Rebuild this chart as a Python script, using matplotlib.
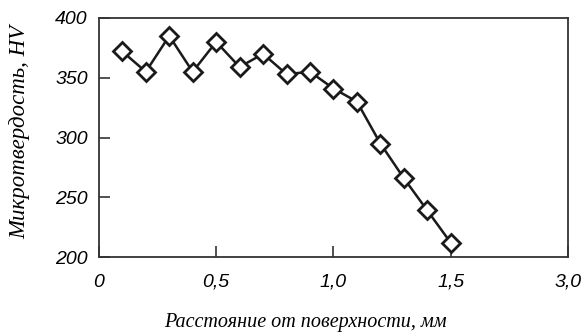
import matplotlib
matplotlib.use('Agg')
import matplotlib.pyplot as plt

# distance from surface, mm (axis is drawn 0..2.0, last tick labelled 3,0)
depth = [0.1, 0.2, 0.3, 0.4, 0.5, 0.6, 0.7, 0.8, 0.9, 1.0, 1.1, 1.2, 1.3, 1.4, 1.5]
hv = [372, 355, 385, 355, 380, 359, 370, 353, 355, 341, 330, 295, 266, 239, 212]

xticks = [0, 0.5, 1.0, 1.5, 2.0]
xlabels = ['0', '0,5', '1,0', '1,5', '3,0']
yticks = [200, 250, 300, 350, 400]

tick_font = {'family': 'Liberation Sans', 'style': 'italic', 'size': 14}
xlab_font = {'family': 'Liberation Serif', 'style': 'italic', 'size': 14.5}
ylab_font = {'family': 'Liberation Serif', 'style': 'italic', 'size': 16.5}

fig = plt.figure(figsize=(5.85, 3.33), dpi=100)
ax = fig.add_axes([0.169, 0.228, 0.802, 0.718])

ax.plot(depth, hv, color='#1a1a1a', lw=1.8, marker='D', markersize=9,
        markerfacecolor='white', markeredgecolor='#1a1a1a', markeredgewidth=2,
        clip_on=False, zorder=3)

ax.set_xlim(0, 2.0)
ax.set_ylim(200, 400)
ax.set_xticks(xticks)
ax.set_xticklabels(xlabels, fontdict=tick_font)
ax.set_yticks(yticks)
ax.set_yticklabels([str(v) for v in yticks], fontdict=tick_font)
ax.tick_params(direction='in', length=8, width=1.2, color='#333333')
ax.tick_params(axis='x', pad=12)
ax.tick_params(axis='y', pad=8)

for s in ax.spines.values():
    s.set_color('#333333')
    s.set_linewidth(1.3)

ax.set_xlabel('Расстояние от поверхности, мм', fontdict=xlab_font)
ax.set_ylabel('Микротвердость, HV', fontdict=ylab_font)
ax.xaxis.set_label_coords(0.44, -0.232)
ax.yaxis.set_label_coords(-0.146, 0.523)

fig.savefig('out.png', dpi=100)
